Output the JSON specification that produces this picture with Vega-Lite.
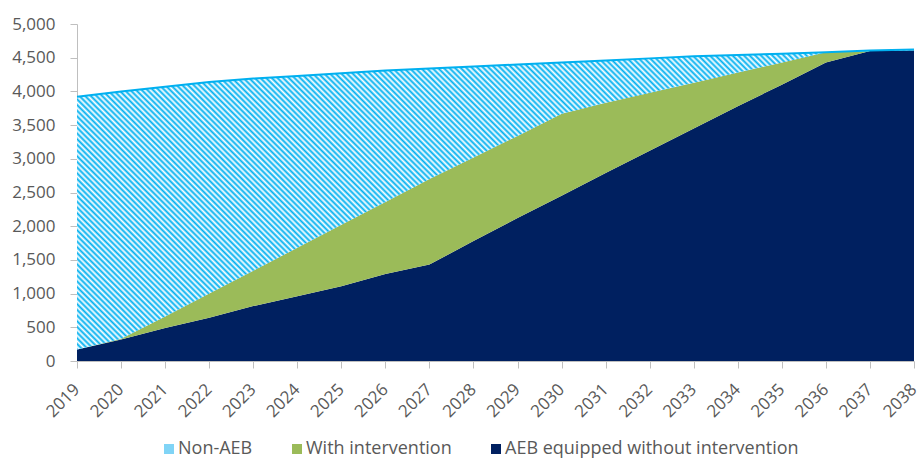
{
  "$schema": "https://vega.github.io/schema/vega-lite/v6.json",
  "width": 837,
  "height": 337,
  "autosize": {"type": "none"},
  "padding": {"left": 77, "top": 24, "right": 3, "bottom": 100},
  "background": "white",
  "config": {
    "view": {"stroke": null},
    "font": "Open Sans",
    "axis": {"labelFont": "Open Sans", "labelColor": "#595959", "labelFontSize": 17, "domainColor": "#BFBFBF", "tickColor": "#BFBFBF", "grid": false, "title": null}
  },
  "data": {"values": [
    {"year": 2019, "series": "AEB equipped without intervention", "order": 1, "value": 170},
    {"year": 2019, "series": "With intervention", "order": 2, "value": 0},
    {"year": 2019, "series": "Non-AEB", "order": 3, "value": 3750},
    {"year": 2020, "series": "AEB equipped without intervention", "order": 1, "value": 320},
    {"year": 2020, "series": "With intervention", "order": 2, "value": 10},
    {"year": 2020, "series": "Non-AEB", "order": 3, "value": 3670},
    {"year": 2021, "series": "AEB equipped without intervention", "order": 1, "value": 490},
    {"year": 2021, "series": "With intervention", "order": 2, "value": 170},
    {"year": 2021, "series": "Non-AEB", "order": 3, "value": 3410},
    {"year": 2022, "series": "AEB equipped without intervention", "order": 1, "value": 640},
    {"year": 2022, "series": "With intervention", "order": 2, "value": 360},
    {"year": 2022, "series": "Non-AEB", "order": 3, "value": 3140},
    {"year": 2023, "series": "AEB equipped without intervention", "order": 1, "value": 815},
    {"year": 2023, "series": "With intervention", "order": 2, "value": 525},
    {"year": 2023, "series": "Non-AEB", "order": 3, "value": 2850},
    {"year": 2024, "series": "AEB equipped without intervention", "order": 1, "value": 960},
    {"year": 2024, "series": "With intervention", "order": 2, "value": 720},
    {"year": 2024, "series": "Non-AEB", "order": 3, "value": 2550},
    {"year": 2025, "series": "AEB equipped without intervention", "order": 1, "value": 1110},
    {"year": 2025, "series": "With intervention", "order": 2, "value": 910},
    {"year": 2025, "series": "Non-AEB", "order": 3, "value": 2250},
    {"year": 2026, "series": "AEB equipped without intervention", "order": 1, "value": 1290},
    {"year": 2026, "series": "With intervention", "order": 2, "value": 1070},
    {"year": 2026, "series": "Non-AEB", "order": 3, "value": 1950},
    {"year": 2027, "series": "AEB equipped without intervention", "order": 1, "value": 1430},
    {"year": 2027, "series": "With intervention", "order": 2, "value": 1270},
    {"year": 2027, "series": "Non-AEB", "order": 3, "value": 1640},
    {"year": 2028, "series": "AEB equipped without intervention", "order": 1, "value": 1780},
    {"year": 2028, "series": "With intervention", "order": 2, "value": 1240},
    {"year": 2028, "series": "Non-AEB", "order": 3, "value": 1350},
    {"year": 2029, "series": "AEB equipped without intervention", "order": 1, "value": 2120},
    {"year": 2029, "series": "With intervention", "order": 2, "value": 1220},
    {"year": 2029, "series": "Non-AEB", "order": 3, "value": 1060},
    {"year": 2030, "series": "AEB equipped without intervention", "order": 1, "value": 2450},
    {"year": 2030, "series": "With intervention", "order": 2, "value": 1220},
    {"year": 2030, "series": "Non-AEB", "order": 3, "value": 760},
    {"year": 2031, "series": "AEB equipped without intervention", "order": 1, "value": 2790},
    {"year": 2031, "series": "With intervention", "order": 2, "value": 1040},
    {"year": 2031, "series": "Non-AEB", "order": 3, "value": 630},
    {"year": 2032, "series": "AEB equipped without intervention", "order": 1, "value": 3120},
    {"year": 2032, "series": "With intervention", "order": 2, "value": 860},
    {"year": 2032, "series": "Non-AEB", "order": 3, "value": 510},
    {"year": 2033, "series": "AEB equipped without intervention", "order": 1, "value": 3450},
    {"year": 2033, "series": "With intervention", "order": 2, "value": 680},
    {"year": 2033, "series": "Non-AEB", "order": 3, "value": 390},
    {"year": 2034, "series": "AEB equipped without intervention", "order": 1, "value": 3780},
    {"year": 2034, "series": "With intervention", "order": 2, "value": 500},
    {"year": 2034, "series": "Non-AEB", "order": 3, "value": 260},
    {"year": 2035, "series": "AEB equipped without intervention", "order": 1, "value": 4100},
    {"year": 2035, "series": "With intervention", "order": 2, "value": 330},
    {"year": 2035, "series": "Non-AEB", "order": 3, "value": 130},
    {"year": 2036, "series": "AEB equipped without intervention", "order": 1, "value": 4430},
    {"year": 2036, "series": "With intervention", "order": 2, "value": 150},
    {"year": 2036, "series": "Non-AEB", "order": 3, "value": 0},
    {"year": 2037, "series": "AEB equipped without intervention", "order": 1, "value": 4600},
    {"year": 2037, "series": "With intervention", "order": 2, "value": 0},
    {"year": 2037, "series": "Non-AEB", "order": 3, "value": 5},
    {"year": 2038, "series": "AEB equipped without intervention", "order": 1, "value": 4610},
    {"year": 2038, "series": "With intervention", "order": 2, "value": 0},
    {"year": 2038, "series": "Non-AEB", "order": 3, "value": 10}
  ]},
  "transform": [
    {"stack": "value", "groupby": ["year"], "sort": [{"field": "order", "order": "ascending"}], "as": ["y0", "y1"]}
  ],
  "encoding": {
    "x": {"field": "year", "type": "ordinal", "scale": {"type": "point", "padding": 0},
          "axis": {"labelAngle": -45, "tickSize": 7, "labelPadding": 13, "labelOffset": -6}},
    "y": {"field": "y1", "type": "quantitative", "scale": {"domain": [0, 5000], "nice": false},
          "axis": {"values": [0, 500, 1000, 1500, 2000, 2500, 3000, 3500, 4000, 4500, 5000], "format": ",.0f", "tickSize": 7, "labelPadding": 15}},
    "y2": {"field": "y0"}
  },
  "layer": [
    {
      "mark": {"type": "area", "opacity": 1},
      "encoding": {
        "color": {"field": "series", "type": "nominal",
          "scale": {"domain": ["Non-AEB", "With intervention", "AEB equipped without intervention"], "range": ["#80D4F6", "#9BBB59", "#002060"]},
          "legend": {"title": null, "orient": "none", "legendX": 83, "legendY": 416, "direction": "horizontal", "symbolType": "square", "symbolSize": 100, "symbolStrokeWidth": 0, "labelFont": "Open Sans", "labelFontSize": 18, "labelColor": "#595959", "labelLimit": 500, "labelOffset": 0, "columnPadding": 35, "symbolOpacity": 1, "padding": 0}
        }
      }
    },
    {
      "transform": [{"filter": "datum.series === 'Non-AEB'"}],
      "mark": {"type": "area", "fill": {"gradient": "linear", "x1": 0, "y1": 1, "x2": 1.204, "y2": 0.569, "stops": [
        {"offset":0,"color":"#00B0F0"},{"offset":0.0025,"color":"#fff"},{"offset":0.005,"color":"#00B0F0"},{"offset":0.0075,"color":"#fff"},
        {"offset":0.01,"color":"#00B0F0"},{"offset":0.0125,"color":"#fff"},{"offset":0.015,"color":"#00B0F0"},{"offset":0.0175,"color":"#fff"},
        {"offset":0.02,"color":"#00B0F0"},{"offset":0.0225,"color":"#fff"},{"offset":0.025,"color":"#00B0F0"},{"offset":0.0275,"color":"#fff"},
        {"offset":0.03,"color":"#00B0F0"},{"offset":0.0325,"color":"#fff"},{"offset":0.035,"color":"#00B0F0"},{"offset":0.0375,"color":"#fff"},
        {"offset":0.04,"color":"#00B0F0"},{"offset":0.0425,"color":"#fff"},{"offset":0.045,"color":"#00B0F0"},{"offset":0.0475,"color":"#fff"},
        {"offset":0.05,"color":"#00B0F0"},{"offset":0.0525,"color":"#fff"},{"offset":0.055,"color":"#00B0F0"},{"offset":0.0575,"color":"#fff"},
        {"offset":0.06,"color":"#00B0F0"},{"offset":0.0625,"color":"#fff"},{"offset":0.065,"color":"#00B0F0"},{"offset":0.0675,"color":"#fff"},
        {"offset":0.07,"color":"#00B0F0"},{"offset":0.0725,"color":"#fff"},{"offset":0.075,"color":"#00B0F0"},{"offset":0.0775,"color":"#fff"},
        {"offset":0.08,"color":"#00B0F0"},{"offset":0.0825,"color":"#fff"},{"offset":0.085,"color":"#00B0F0"},{"offset":0.0875,"color":"#fff"},
        {"offset":0.09,"color":"#00B0F0"},{"offset":0.0925,"color":"#fff"},{"offset":0.095,"color":"#00B0F0"},{"offset":0.0975,"color":"#fff"},
        {"offset":0.10,"color":"#00B0F0"},{"offset":0.1025,"color":"#fff"},{"offset":0.105,"color":"#00B0F0"},{"offset":0.1075,"color":"#fff"},
        {"offset":0.11,"color":"#00B0F0"},{"offset":0.1125,"color":"#fff"},{"offset":0.115,"color":"#00B0F0"},{"offset":0.1175,"color":"#fff"},
        {"offset":0.12,"color":"#00B0F0"},{"offset":0.1225,"color":"#fff"},{"offset":0.125,"color":"#00B0F0"},{"offset":0.1275,"color":"#fff"},
        {"offset":0.13,"color":"#00B0F0"},{"offset":0.1325,"color":"#fff"},{"offset":0.135,"color":"#00B0F0"},{"offset":0.1375,"color":"#fff"},
        {"offset":0.14,"color":"#00B0F0"},{"offset":0.1425,"color":"#fff"},{"offset":0.145,"color":"#00B0F0"},{"offset":0.1475,"color":"#fff"},
        {"offset":0.15,"color":"#00B0F0"},{"offset":0.1525,"color":"#fff"},{"offset":0.155,"color":"#00B0F0"},{"offset":0.1575,"color":"#fff"},
        {"offset":0.16,"color":"#00B0F0"},{"offset":0.1625,"color":"#fff"},{"offset":0.165,"color":"#00B0F0"},{"offset":0.1675,"color":"#fff"},
        {"offset":0.17,"color":"#00B0F0"},{"offset":0.1725,"color":"#fff"},{"offset":0.175,"color":"#00B0F0"},{"offset":0.1775,"color":"#fff"},
        {"offset":0.18,"color":"#00B0F0"},{"offset":0.1825,"color":"#fff"},{"offset":0.185,"color":"#00B0F0"},{"offset":0.1875,"color":"#fff"},
        {"offset":0.19,"color":"#00B0F0"},{"offset":0.1925,"color":"#fff"},{"offset":0.195,"color":"#00B0F0"},{"offset":0.1975,"color":"#fff"},
        {"offset":0.20,"color":"#00B0F0"},{"offset":0.2025,"color":"#fff"},{"offset":0.205,"color":"#00B0F0"},{"offset":0.2075,"color":"#fff"},
        {"offset":0.21,"color":"#00B0F0"},{"offset":0.2125,"color":"#fff"},{"offset":0.215,"color":"#00B0F0"},{"offset":0.2175,"color":"#fff"},
        {"offset":0.22,"color":"#00B0F0"},{"offset":0.2225,"color":"#fff"},{"offset":0.225,"color":"#00B0F0"},{"offset":0.2275,"color":"#fff"},
        {"offset":0.23,"color":"#00B0F0"},{"offset":0.2325,"color":"#fff"},{"offset":0.235,"color":"#00B0F0"},{"offset":0.2375,"color":"#fff"},
        {"offset":0.24,"color":"#00B0F0"},{"offset":0.2425,"color":"#fff"},{"offset":0.245,"color":"#00B0F0"},{"offset":0.2475,"color":"#fff"},
        {"offset":0.25,"color":"#00B0F0"},{"offset":0.2525,"color":"#fff"},{"offset":0.255,"color":"#00B0F0"},{"offset":0.2575,"color":"#fff"},
        {"offset":0.26,"color":"#00B0F0"},{"offset":0.2625,"color":"#fff"},{"offset":0.265,"color":"#00B0F0"},{"offset":0.2675,"color":"#fff"},
        {"offset":0.27,"color":"#00B0F0"},{"offset":0.2725,"color":"#fff"},{"offset":0.275,"color":"#00B0F0"},{"offset":0.2775,"color":"#fff"},
        {"offset":0.28,"color":"#00B0F0"},{"offset":0.2825,"color":"#fff"},{"offset":0.285,"color":"#00B0F0"},{"offset":0.2875,"color":"#fff"},
        {"offset":0.29,"color":"#00B0F0"},{"offset":0.2925,"color":"#fff"},{"offset":0.295,"color":"#00B0F0"},{"offset":0.2975,"color":"#fff"},
        {"offset":0.30,"color":"#00B0F0"},{"offset":0.3025,"color":"#fff"},{"offset":0.305,"color":"#00B0F0"},{"offset":0.3075,"color":"#fff"},
        {"offset":0.31,"color":"#00B0F0"},{"offset":0.3125,"color":"#fff"},{"offset":0.315,"color":"#00B0F0"},{"offset":0.3175,"color":"#fff"},
        {"offset":0.32,"color":"#00B0F0"},{"offset":0.3225,"color":"#fff"},{"offset":0.325,"color":"#00B0F0"},{"offset":0.3275,"color":"#fff"},
        {"offset":0.33,"color":"#00B0F0"},{"offset":0.3325,"color":"#fff"},{"offset":0.335,"color":"#00B0F0"},{"offset":0.3375,"color":"#fff"},
        {"offset":0.34,"color":"#00B0F0"},{"offset":0.3425,"color":"#fff"},{"offset":0.345,"color":"#00B0F0"},{"offset":0.3475,"color":"#fff"},
        {"offset":0.35,"color":"#00B0F0"},{"offset":0.3525,"color":"#fff"},{"offset":0.355,"color":"#00B0F0"},{"offset":0.3575,"color":"#fff"},
        {"offset":0.36,"color":"#00B0F0"},{"offset":0.3625,"color":"#fff"},{"offset":0.365,"color":"#00B0F0"},{"offset":0.3675,"color":"#fff"},
        {"offset":0.37,"color":"#00B0F0"},{"offset":0.3725,"color":"#fff"},{"offset":0.375,"color":"#00B0F0"},{"offset":0.3775,"color":"#fff"},
        {"offset":0.38,"color":"#00B0F0"},{"offset":0.3825,"color":"#fff"},{"offset":0.385,"color":"#00B0F0"},{"offset":0.3875,"color":"#fff"},
        {"offset":0.39,"color":"#00B0F0"},{"offset":0.3925,"color":"#fff"},{"offset":0.395,"color":"#00B0F0"},{"offset":0.3975,"color":"#fff"},
        {"offset":0.40,"color":"#00B0F0"},{"offset":0.4025,"color":"#fff"},{"offset":0.405,"color":"#00B0F0"},{"offset":0.4075,"color":"#fff"},
        {"offset":0.41,"color":"#00B0F0"},{"offset":0.4125,"color":"#fff"},{"offset":0.415,"color":"#00B0F0"},{"offset":0.4175,"color":"#fff"},
        {"offset":0.42,"color":"#00B0F0"},{"offset":0.4225,"color":"#fff"},{"offset":0.425,"color":"#00B0F0"},{"offset":0.4275,"color":"#fff"},
        {"offset":0.43,"color":"#00B0F0"},{"offset":0.4325,"color":"#fff"},{"offset":0.435,"color":"#00B0F0"},{"offset":0.4375,"color":"#fff"},
        {"offset":0.44,"color":"#00B0F0"},{"offset":0.4425,"color":"#fff"},{"offset":0.445,"color":"#00B0F0"},{"offset":0.4475,"color":"#fff"},
        {"offset":0.45,"color":"#00B0F0"},{"offset":0.4525,"color":"#fff"},{"offset":0.455,"color":"#00B0F0"},{"offset":0.4575,"color":"#fff"},
        {"offset":0.46,"color":"#00B0F0"},{"offset":0.4625,"color":"#fff"},{"offset":0.465,"color":"#00B0F0"},{"offset":0.4675,"color":"#fff"},
        {"offset":0.47,"color":"#00B0F0"},{"offset":0.4725,"color":"#fff"},{"offset":0.475,"color":"#00B0F0"},{"offset":0.4775,"color":"#fff"},
        {"offset":0.48,"color":"#00B0F0"},{"offset":0.4825,"color":"#fff"},{"offset":0.485,"color":"#00B0F0"},{"offset":0.4875,"color":"#fff"},
        {"offset":0.49,"color":"#00B0F0"},{"offset":0.4925,"color":"#fff"},{"offset":0.495,"color":"#00B0F0"},{"offset":0.4975,"color":"#fff"},
        {"offset":0.50,"color":"#00B0F0"},{"offset":0.5025,"color":"#fff"},{"offset":0.505,"color":"#00B0F0"},{"offset":0.5075,"color":"#fff"},
        {"offset":0.51,"color":"#00B0F0"},{"offset":0.5125,"color":"#fff"},{"offset":0.515,"color":"#00B0F0"},{"offset":0.5175,"color":"#fff"},
        {"offset":0.52,"color":"#00B0F0"},{"offset":0.5225,"color":"#fff"},{"offset":0.525,"color":"#00B0F0"},{"offset":0.5275,"color":"#fff"},
        {"offset":0.53,"color":"#00B0F0"},{"offset":0.5325,"color":"#fff"},{"offset":0.535,"color":"#00B0F0"},{"offset":0.5375,"color":"#fff"},
        {"offset":0.54,"color":"#00B0F0"},{"offset":0.5425,"color":"#fff"},{"offset":0.545,"color":"#00B0F0"},{"offset":0.5475,"color":"#fff"},
        {"offset":0.55,"color":"#00B0F0"},{"offset":0.5525,"color":"#fff"},{"offset":0.555,"color":"#00B0F0"},{"offset":0.5575,"color":"#fff"},
        {"offset":0.56,"color":"#00B0F0"},{"offset":0.5625,"color":"#fff"},{"offset":0.565,"color":"#00B0F0"},{"offset":0.5675,"color":"#fff"},
        {"offset":0.57,"color":"#00B0F0"},{"offset":0.5725,"color":"#fff"},{"offset":0.575,"color":"#00B0F0"},{"offset":0.5775,"color":"#fff"},
        {"offset":0.58,"color":"#00B0F0"},{"offset":0.5825,"color":"#fff"},{"offset":0.585,"color":"#00B0F0"},{"offset":0.5875,"color":"#fff"},
        {"offset":0.59,"color":"#00B0F0"},{"offset":0.5925,"color":"#fff"},{"offset":0.595,"color":"#00B0F0"},{"offset":0.5975,"color":"#fff"},
        {"offset":0.60,"color":"#00B0F0"},{"offset":0.6025,"color":"#fff"},{"offset":0.605,"color":"#00B0F0"},{"offset":0.6075,"color":"#fff"},
        {"offset":0.61,"color":"#00B0F0"},{"offset":0.6125,"color":"#fff"},{"offset":0.615,"color":"#00B0F0"},{"offset":0.6175,"color":"#fff"},
        {"offset":0.62,"color":"#00B0F0"},{"offset":0.6225,"color":"#fff"},{"offset":0.625,"color":"#00B0F0"},{"offset":0.6275,"color":"#fff"},
        {"offset":0.63,"color":"#00B0F0"},{"offset":0.6325,"color":"#fff"},{"offset":0.635,"color":"#00B0F0"},{"offset":0.6375,"color":"#fff"},
        {"offset":0.64,"color":"#00B0F0"},{"offset":0.6425,"color":"#fff"},{"offset":0.645,"color":"#00B0F0"},{"offset":0.6475,"color":"#fff"},
        {"offset":0.65,"color":"#00B0F0"},{"offset":0.6525,"color":"#fff"},{"offset":0.655,"color":"#00B0F0"},{"offset":0.6575,"color":"#fff"},
        {"offset":0.66,"color":"#00B0F0"},{"offset":0.6625,"color":"#fff"},{"offset":0.665,"color":"#00B0F0"},{"offset":0.6675,"color":"#fff"},
        {"offset":0.67,"color":"#00B0F0"},{"offset":0.6725,"color":"#fff"},{"offset":0.675,"color":"#00B0F0"},{"offset":0.6775,"color":"#fff"},
        {"offset":0.68,"color":"#00B0F0"},{"offset":0.6825,"color":"#fff"},{"offset":0.685,"color":"#00B0F0"},{"offset":0.6875,"color":"#fff"},
        {"offset":0.69,"color":"#00B0F0"},{"offset":0.6925,"color":"#fff"},{"offset":0.695,"color":"#00B0F0"},{"offset":0.6975,"color":"#fff"},
        {"offset":0.70,"color":"#00B0F0"},{"offset":0.7025,"color":"#fff"},{"offset":0.705,"color":"#00B0F0"},{"offset":0.7075,"color":"#fff"},
        {"offset":0.71,"color":"#00B0F0"},{"offset":0.7125,"color":"#fff"},{"offset":0.715,"color":"#00B0F0"},{"offset":0.7175,"color":"#fff"},
        {"offset":0.72,"color":"#00B0F0"},{"offset":0.7225,"color":"#fff"},{"offset":0.725,"color":"#00B0F0"},{"offset":0.7275,"color":"#fff"},
        {"offset":0.73,"color":"#00B0F0"},{"offset":0.7325,"color":"#fff"},{"offset":0.735,"color":"#00B0F0"},{"offset":0.7375,"color":"#fff"},
        {"offset":0.74,"color":"#00B0F0"},{"offset":0.7425,"color":"#fff"},{"offset":0.745,"color":"#00B0F0"},{"offset":0.7475,"color":"#fff"},
        {"offset":0.75,"color":"#00B0F0"},{"offset":0.7525,"color":"#fff"},{"offset":0.755,"color":"#00B0F0"},{"offset":0.7575,"color":"#fff"},
        {"offset":0.76,"color":"#00B0F0"},{"offset":0.7625,"color":"#fff"},{"offset":0.765,"color":"#00B0F0"},{"offset":0.7675,"color":"#fff"},
        {"offset":0.77,"color":"#00B0F0"},{"offset":0.7725,"color":"#fff"},{"offset":0.775,"color":"#00B0F0"},{"offset":0.7775,"color":"#fff"},
        {"offset":0.78,"color":"#00B0F0"},{"offset":0.7825,"color":"#fff"},{"offset":0.785,"color":"#00B0F0"},{"offset":0.7875,"color":"#fff"},
        {"offset":0.79,"color":"#00B0F0"},{"offset":0.7925,"color":"#fff"},{"offset":0.795,"color":"#00B0F0"},{"offset":0.7975,"color":"#fff"},
        {"offset":0.80,"color":"#00B0F0"},{"offset":0.8025,"color":"#fff"},{"offset":0.805,"color":"#00B0F0"},{"offset":0.8075,"color":"#fff"},
        {"offset":0.81,"color":"#00B0F0"},{"offset":0.8125,"color":"#fff"},{"offset":0.815,"color":"#00B0F0"},{"offset":0.8175,"color":"#fff"},
        {"offset":0.82,"color":"#00B0F0"},{"offset":0.8225,"color":"#fff"},{"offset":0.825,"color":"#00B0F0"},{"offset":0.8275,"color":"#fff"},
        {"offset":0.83,"color":"#00B0F0"},{"offset":0.8325,"color":"#fff"},{"offset":0.835,"color":"#00B0F0"},{"offset":0.8375,"color":"#fff"},
        {"offset":0.84,"color":"#00B0F0"},{"offset":0.8425,"color":"#fff"},{"offset":0.845,"color":"#00B0F0"},{"offset":0.8475,"color":"#fff"},
        {"offset":0.85,"color":"#00B0F0"},{"offset":0.8525,"color":"#fff"},{"offset":0.855,"color":"#00B0F0"},{"offset":0.8575,"color":"#fff"},
        {"offset":0.86,"color":"#00B0F0"},{"offset":0.8625,"color":"#fff"},{"offset":0.865,"color":"#00B0F0"},{"offset":0.8675,"color":"#fff"},
        {"offset":0.87,"color":"#00B0F0"},{"offset":0.8725,"color":"#fff"},{"offset":0.875,"color":"#00B0F0"},{"offset":0.8775,"color":"#fff"},
        {"offset":0.88,"color":"#00B0F0"},{"offset":0.8825,"color":"#fff"},{"offset":0.885,"color":"#00B0F0"},{"offset":0.8875,"color":"#fff"},
        {"offset":0.89,"color":"#00B0F0"},{"offset":0.8925,"color":"#fff"},{"offset":0.895,"color":"#00B0F0"},{"offset":0.8975,"color":"#fff"},
        {"offset":0.90,"color":"#00B0F0"},{"offset":0.9025,"color":"#fff"},{"offset":0.905,"color":"#00B0F0"},{"offset":0.9075,"color":"#fff"},
        {"offset":0.91,"color":"#00B0F0"},{"offset":0.9125,"color":"#fff"},{"offset":0.915,"color":"#00B0F0"},{"offset":0.9175,"color":"#fff"},
        {"offset":0.92,"color":"#00B0F0"},{"offset":0.9225,"color":"#fff"},{"offset":0.925,"color":"#00B0F0"},{"offset":0.9275,"color":"#fff"},
        {"offset":0.93,"color":"#00B0F0"},{"offset":0.9325,"color":"#fff"},{"offset":0.935,"color":"#00B0F0"},{"offset":0.9375,"color":"#fff"},
        {"offset":0.94,"color":"#00B0F0"},{"offset":0.9425,"color":"#fff"},{"offset":0.945,"color":"#00B0F0"},{"offset":0.9475,"color":"#fff"},
        {"offset":0.95,"color":"#00B0F0"},{"offset":0.9525,"color":"#fff"},{"offset":0.955,"color":"#00B0F0"},{"offset":0.9575,"color":"#fff"},
        {"offset":0.96,"color":"#00B0F0"},{"offset":0.9625,"color":"#fff"},{"offset":0.965,"color":"#00B0F0"},{"offset":0.9675,"color":"#fff"},
        {"offset":0.97,"color":"#00B0F0"},{"offset":0.9725,"color":"#fff"},{"offset":0.975,"color":"#00B0F0"},{"offset":0.9775,"color":"#fff"},
        {"offset":0.98,"color":"#00B0F0"},{"offset":0.9825,"color":"#fff"},{"offset":0.985,"color":"#00B0F0"},{"offset":0.9875,"color":"#fff"},
        {"offset":0.99,"color":"#00B0F0"},{"offset":0.9925,"color":"#fff"},{"offset":0.995,"color":"#00B0F0"},{"offset":0.9975,"color":"#fff"},
        {"offset":1,"color":"#00B0F0"}
      ]}},
      "encoding": {}
    },
    {
      "transform": [{"filter": "datum.series === 'Non-AEB'"}],
      "mark": {"type": "line", "color": "#00B0F0", "strokeWidth": 2},
      "encoding": {"y2": null}
    }
  ]
}
